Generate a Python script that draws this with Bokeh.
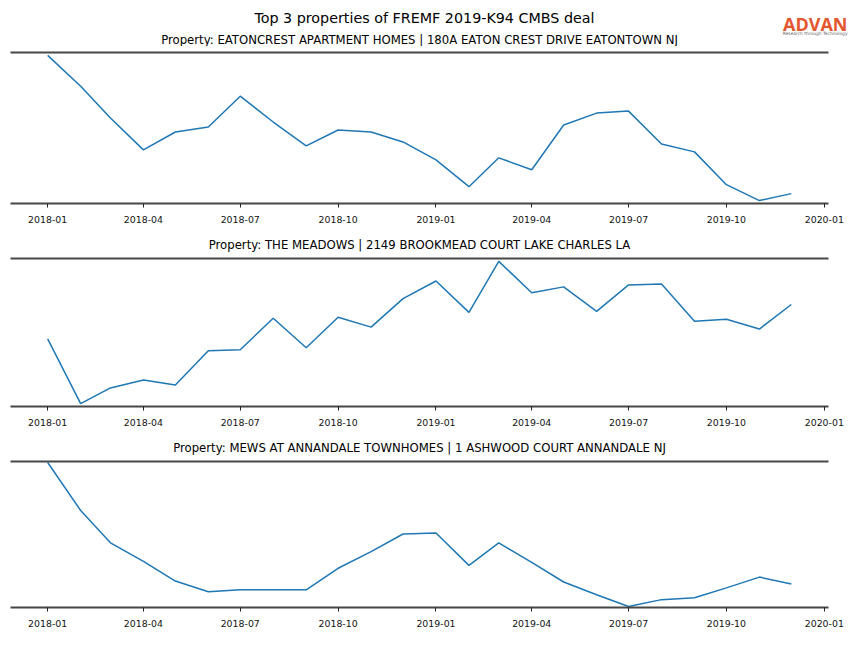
import pandas as pd
from bokeh.plotting import figure
from bokeh.models import Range1d, FixedTicker, LinearAxis, Label
from bokeh.layouts import column
from bokeh.embed import file_html
from bokeh.resources import INLINE

main_title = "Top 3 properties of FREMF 2019-K94 CMBS deal"
logo_text = "ADVAN"
logo_tagline = "Research through Technology"
months = pd.date_range("2018-01-01", periods=24, freq="MS")
tick_labels = ["2018-01", "2018-04", "2018-07", "2018-10", "2019-01",
               "2019-04", "2019-07", "2019-10", "2020-01"]

titles = [
    "Property: EATONCREST APARTMENT HOMES | 180A EATON CREST DRIVE EATONTOWN NJ",
    "Property: THE MEADOWS | 2149 BROOKMEAD COURT LAKE CHARLES LA",
    "Property: MEWS AT ANNANDALE TOWNHOMES | 1 ASHWOOD COURT ANNANDALE NJ",
]
eatoncrest = [149, 118, 86, 54, 72, 77, 108, 82, 58, 74, 72, 62,
              44, 17, 46, 34, 79, 91, 93, 60, 52, 19, 3, 10]
meadows = [69, 3, 19, 27, 22, 57, 58, 90, 60, 91, 81, 110,
           128, 96, 148, 116, 122, 97, 124, 125, 87, 89, 79, 104]
mews = [148, 99, 66, 47, 27, 16, 18, 18, 18, 40, 57, 75,
        76, 43, 66, 46, 26, 13, 1, 8, 10, 20, 31, 24]
y_pads = [0.02, 0.02, 0.007]

W = 848
SPINE = "#474747"
FONT = "DejaVu Sans"
LEFT, RIGHT = 10, 20


def panel(title, values, ypad, height, top, bottom):
    span = months[-1] - months[0]
    x0, x1 = months[0] - span * 0.05, months[-1] + span * 0.05
    vmin, vmax = min(values), max(values)
    pad = (vmax - vmin) * ypad
    p = figure(width=W, height=height, x_axis_type="datetime",
               x_range=Range1d(x0, x1), y_range=Range1d(vmin - pad, vmax + pad),
               output_backend="svg", toolbar_location=None,
               min_border_left=LEFT, min_border_right=RIGHT,
               min_border_top=top, min_border_bottom=bottom)
    p.line(months, values, line_color="#1f77b4", line_width=1.5)
    p.outline_line_color = None
    p.xgrid.visible = False
    p.ygrid.visible = False
    p.yaxis.visible = False
    ticks = [pd.Timestamp(t).value / 1e6 for t in tick_labels]
    ax = p.xaxis[0]
    ax.axis_label = None
    ax.ticker = FixedTicker(ticks=ticks)
    ax.major_label_overrides = {t: l for t, l in zip(ticks, tick_labels)}
    ax.axis_line_color = SPINE
    ax.axis_line_width = 2
    ax.major_tick_out = 4
    ax.major_tick_in = 0
    ax.minor_tick_out = 0
    ax.minor_tick_in = 0
    ax.major_tick_line_color = "#222222"
    ax.major_label_text_font = FONT
    ax.major_label_text_font_size = "9.4px"
    ax.major_label_text_color = "#111111"
    ax.major_label_standoff = 8
    topax = LinearAxis(ticker=FixedTicker(ticks=[]), major_label_text_font_size="0px",
                       axis_line_color=SPINE, axis_line_width=2,
                       major_tick_out=0, major_tick_in=0, minor_tick_out=0, minor_tick_in=0,
                       major_label_standoff=0)
    p.add_layout(topax, "above")
    if title:
        p.title.text = title
        p.title.align = "center"
        p.title.text_font = FONT
        p.title.text_font_size = "11.7px"
        p.title.text_font_style = "normal"
        p.title.text_color = "#000000"
        p.title.standoff = 13
    return p


# header: main title, logo, and first panel's caption
HH = 46
head = figure(width=W, height=HH, x_range=Range1d(0, W), y_range=Range1d(HH, 0),
              output_backend="svg", toolbar_location=None,
              min_border_left=0, min_border_right=0, min_border_top=0, min_border_bottom=0)
head.frame_align = False
head.axis.visible = False
head.grid.visible = False
head.outline_line_color = None
head.add_layout(Label(x=W / 2, y=17, text=main_title, text_font=FONT,
                      text_font_size="14.3px", text_align="center",
                      text_baseline="middle", text_color="#000000"))
head.add_layout(Label(x=(LEFT + W - RIGHT) / 2, y=39, text=titles[0], text_font=FONT,
                      text_font_size="11.7px", text_align="center",
                      text_baseline="middle", text_color="#000000"))
head.add_layout(Label(x=847, y=23, text=logo_text, text_font="Open Sans",
                      text_font_size="18px", text_font_style="bold", text_align="right",
                      text_baseline="middle", text_color="#E4572E"))
head.add_layout(Label(x=847, y=33, text=logo_tagline, text_font=FONT,
                      text_font_size="4.4px", text_align="right",
                      text_baseline="middle", text_color="#666666"))

p1 = panel(None, eatoncrest, y_pads[0], 183, 6, 26)
p2 = panel(titles[1], meadows, y_pads[1], 203, 27, 26)
p3 = panel(titles[2], mews, y_pads[2], 200, 27, 25)

layout = column(head, p1, p2, p3, spacing=0)
open("out.html", "w").write(file_html(layout, INLINE))
